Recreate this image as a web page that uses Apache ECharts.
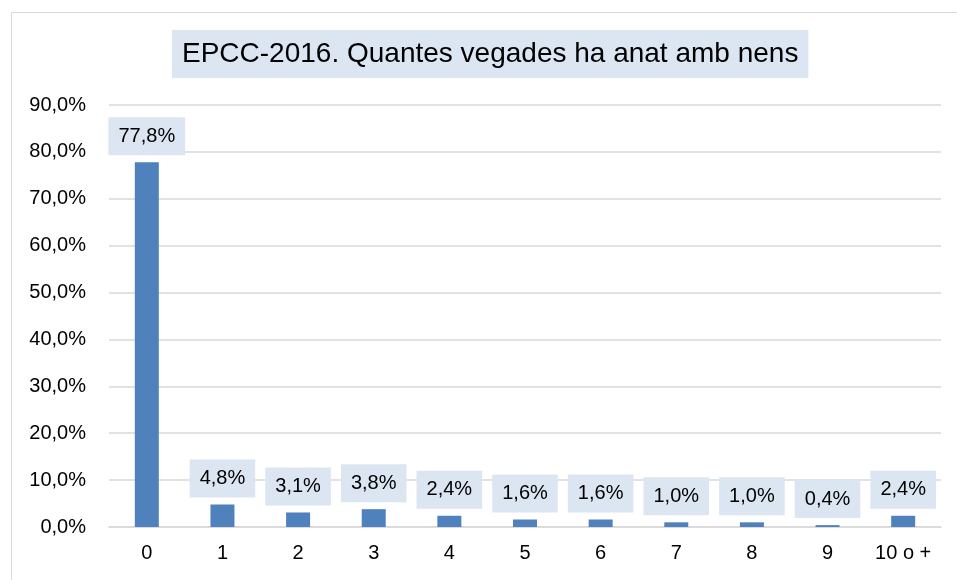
<!DOCTYPE html>
<html>
<head>
<meta charset="utf-8">
<script src="https://cdn.jsdelivr.net/npm/echarts@6/dist/echarts.min.js"></script>
<style>
  html, body { margin: 0; padding: 0; background: #fff; }
  #chart { width: 957px; height: 580px; }
</style>
</head>
<body>
<div id="chart"></div>
<script>
// valors llegits del gràfic
const categories = ['0', '1', '2', '3', '4', '5', '6', '7', '8', '9', '10 o +'];
const percents = [77.8, 4.8, 3.1, 3.8, 2.4, 1.6, 1.6, 1.0, 1.0, 0.4, 2.4];
const titleText = 'EPCC-2016. Quantes vegades ha anat amb nens';

const fmt = v => v.toFixed(1).replace('.', ',') + '%';
const font = '"Liberation Sans", Arial, sans-serif';

const chart = echarts.init(document.getElementById('chart'));
chart.setOption({
  animation: false,
  textStyle: { fontFamily: font, color: '#000' },
  graphic: [{
    type: 'rect',
    shape: { x: 11.5, y: 12.5, width: 1200, height: 1200 },
    style: { fill: 'none', stroke: '#D9D9D9', lineWidth: 1 },
    silent: true
  }],
  title: {
    text: titleText,
    left: 172,
    top: 30,
    padding: [10, 10],
    backgroundColor: '#DCE6F2',
    textStyle: { fontFamily: font, fontSize: 28, fontWeight: 'normal', color: '#000', lineHeight: 28 }
  },
  grid: { left: 109, right: 16, top: 105, bottom: 53 },
  xAxis: {
    type: 'category',
    data: categories,
    axisLine: { lineStyle: { color: '#D9D9D9', width: 1.5 } },
    axisTick: { show: false },
    axisLabel: { fontFamily: font, fontSize: 20, color: '#000', margin: 16 }
  },
  yAxis: {
    type: 'value',
    min: 0,
    max: 90,
    interval: 10,
    axisLine: { show: false },
    axisTick: { show: false },
    splitLine: { lineStyle: { color: '#D9D9D9', width: 1.5 } },
    axisLabel: { fontFamily: font, fontSize: 20, color: '#000', margin: 23, formatter: fmt }
  },
  series: [{
    type: 'bar',
    data: percents,
    barWidth: 24,
    itemStyle: { color: '#4F81BD' },
    label: {
      show: true,
      position: 'top',
      distance: 7,
      fontFamily: font,
      fontSize: 20,
      lineHeight: 22,
      color: '#000',
      backgroundColor: '#DCE6F2',
      padding: [8, 10],
      formatter: p => fmt(p.value)
    }
  }]
});
</script>
</body>
</html>
